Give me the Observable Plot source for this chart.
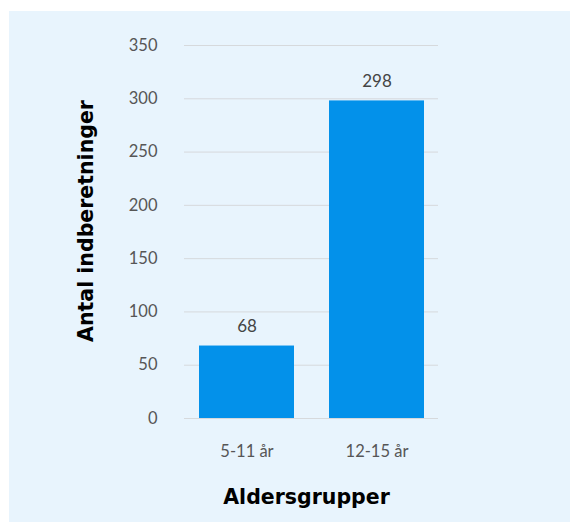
<!DOCTYPE html>
<html>
<head>
<meta charset="utf-8">
<script src="https://cdn.jsdelivr.net/npm/d3@7"></script>
<script src="https://cdn.jsdelivr.net/npm/@observablehq/plot@0.6"></script>
<style>
  html, body { margin: 0; padding: 0; background: #ffffff; }
  #wrap { position: relative; width: 570px; height: 522px; }
  #panel { position: absolute; left: 9px; top: 11px; right: 0; bottom: 0; background: #e8f4fd; }
  #wrap svg { position: absolute; left: 0; top: 0; }
</style>
</head>
<body>
<div id="wrap"><div id="panel"></div></div>
<script>
// Antal indberetninger pr. aldersgruppe
const ageGroups = ["5-11 år", "12-15 år"];
const reportCounts = [68, 298];
const yTicks = [0, 50, 100, 150, 200, 250, 300, 350];
const xTitle = "Aldersgrupper";
const yTitle = "Antal indberetninger";

const rows = ageGroups.map((group, i) => ({ group, count: reportCounts[i] }));

const titleFont = "'DejaVu Sans', sans-serif";

const chart = Plot.plot({
  width: 570,
  height: 522,
  marginLeft: 184,
  marginRight: 132,
  marginTop: 45,
  marginBottom: 104,
  style: { background: "transparent", fontFamily: "Lato, 'Open Sans', sans-serif", fontSize: "16.5px", color: "#565656" },
  x: { domain: ageGroups, paddingInner: 0.27, paddingOuter: 0.11, label: null },
  y: { domain: [0, 350], label: null },
  marks: [
    Plot.gridY(yTicks, { stroke: "#d6d9dc", strokeOpacity: 1, strokeWidth: 1 }),
    Plot.barY(rows, { x: "group", y: "count", fill: "#0391ea" }),
    Plot.axisX({ tickSize: 0, tickPadding: 27, label: null }),
    Plot.axisY({ ticks: yTicks, tickSize: 0, tickPadding: 27, label: null }),
    Plot.text(rows, { x: "group", y: "count", text: d => String(d.count), dy: -19, fontSize: 17, fill: "#444444" }),
    Plot.text([yTitle], { text: d => d, frameAnchor: "left", textAnchor: "middle", lineAnchor: "middle", rotate: -90, dx: -98, dy: -11, fontFamily: titleFont, fontSize: 20.5, fontWeight: "bold", fill: "#000000" }),
    Plot.text([xTitle], { text: d => d, frameAnchor: "bottom", textAnchor: "middle", lineAnchor: "middle", dx: -5, dy: 79, fontFamily: titleFont, fontSize: 20.5, fontWeight: "bold", fill: "#000000" })
  ]
});

document.getElementById("wrap").appendChild(chart);
</script>
</body>
</html>
